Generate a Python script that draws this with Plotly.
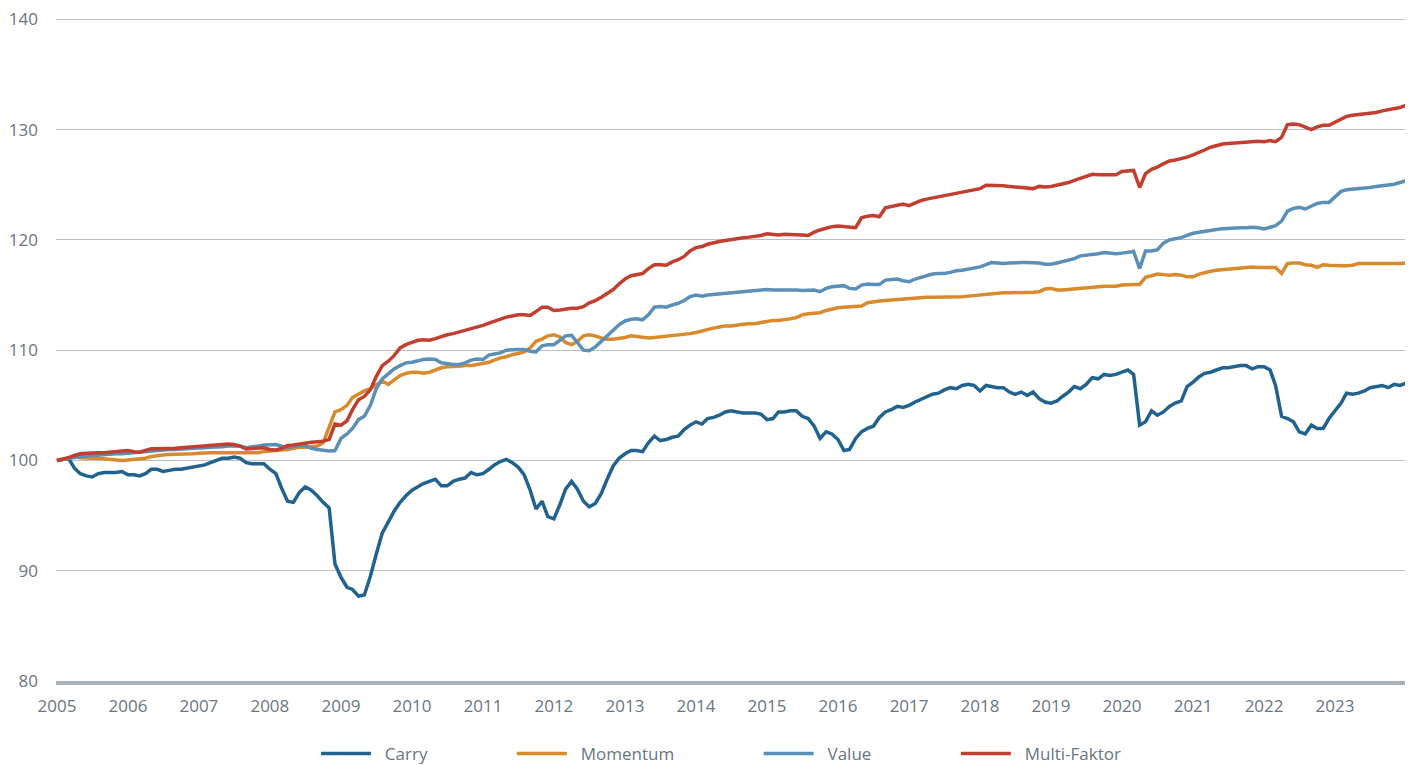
import pandas as pd
import plotly.graph_objects as go

dates = pd.date_range("2005-01-01", "2024-01-01", freq="MS")

carry = [
    100.0, 100.1, 100.2, 99.3, 98.8, 98.6, 98.5, 98.8, 98.9, 98.9, 98.9, 99.0,      # 2005
    98.7, 98.7, 98.6, 98.8, 99.2, 99.2, 99.0, 99.1, 99.2, 99.2, 99.3, 99.4,          # 2006
    99.5, 99.6, 99.8, 100.0, 100.2, 100.2, 100.3, 100.2, 99.8, 99.7, 99.7, 99.7,     # 2007
    99.2, 98.8, 97.5, 96.3, 96.2, 97.1, 97.6, 97.3, 96.8, 96.2, 95.7, 90.6,          # 2008
    89.4, 88.5, 88.3, 87.7, 87.8, 89.5, 91.5, 93.4, 94.4, 95.4, 96.2, 96.8,          # 2009
    97.3, 97.6, 97.9, 98.1, 98.3, 97.7, 97.7, 98.1, 98.3, 98.4, 98.9, 98.7,          # 2010
    98.8, 99.2, 99.6, 99.9, 100.1, 99.8, 99.4, 98.7, 97.3, 95.6, 96.3, 94.9,         # 2011
    94.7, 96.0, 97.4, 98.1, 97.4, 96.3, 95.8, 96.1, 97.0, 98.3, 99.5, 100.2,         # 2012
    100.6, 100.9, 100.9, 100.8, 101.6, 102.2, 101.8, 101.9, 102.1, 102.2, 102.8, 103.2,  # 2013
    103.5, 103.3, 103.8, 103.9, 104.1, 104.4, 104.5, 104.4, 104.3, 104.3, 104.3, 104.2,  # 2014
    103.7, 103.8, 104.4, 104.4, 104.5, 104.5, 104.0, 103.8, 103.1, 102.0, 102.6, 102.4,  # 2015
    101.9, 100.9, 101.0, 102.0, 102.6, 102.9, 103.1, 103.9, 104.4, 104.6, 104.9, 104.8,  # 2016
    105.0, 105.3, 105.5, 105.8, 106.0, 106.1, 106.4, 106.6, 106.5, 106.8, 106.9, 106.8,  # 2017
    106.3, 106.8, 106.7, 106.6, 106.6, 106.2, 106.0, 106.2, 105.9, 106.2, 105.6, 105.3,  # 2018
    105.2, 105.4, 105.8, 106.2, 106.7, 106.5, 106.9, 107.5, 107.4, 107.8, 107.7, 107.8,  # 2019
    108.0, 108.2, 107.8, 103.2, 103.5, 104.5, 104.1, 104.4, 104.9, 105.2, 105.4, 106.7,  # 2020
    107.1, 107.6, 107.9, 108.0, 108.2, 108.4, 108.4, 108.5, 108.6, 108.6, 108.3, 108.5,  # 2021
    108.5, 108.2, 106.8, 104.0, 103.8, 103.5, 102.6, 102.4, 103.2, 102.9, 102.9, 103.8,  # 2022
    104.5, 105.2, 106.1, 106.0, 106.1, 106.3, 106.6, 106.7, 106.8, 106.6, 106.9, 106.8,  # 2023
    107.0,                                                                            # 2024
]

momentum = [
    100.0, 100.1, 100.2, 100.3, 100.25, 100.2, 100.2, 100.2, 100.15, 100.15, 100.05, 100.0,
    100.05, 100.1, 100.15, 100.2, 100.35, 100.45, 100.5, 100.55, 100.55, 100.6, 100.6, 100.6,
    100.65, 100.7, 100.7, 100.7, 100.7, 100.7, 100.65, 100.65, 100.65, 100.65, 100.7, 100.8,
    100.85, 100.85, 100.9, 101.0, 101.1, 101.2, 101.2, 101.25, 101.3, 101.6, 103.0, 104.4,
    104.6, 105.0, 105.7, 106.0, 106.3, 106.5, 106.8, 107.2, 106.9, 107.3, 107.7, 107.9,
    108.0, 108.0, 107.9, 108.0, 108.2, 108.4, 108.5, 108.5, 108.55, 108.6, 108.6, 108.7,
    108.8, 108.9, 109.1, 109.3, 109.4, 109.6, 109.7, 109.85, 110.2, 110.8, 111.0, 111.3,
    111.4, 111.2, 110.7, 110.5, 110.8, 111.3, 111.4, 111.3, 111.1, 111.0, 111.0, 111.05,
    111.15, 111.3, 111.25, 111.2, 111.1, 111.15, 111.2, 111.3, 111.3, 111.35, 111.4, 111.5,
    111.6, 111.75, 111.85, 112.0, 112.1, 112.2, 112.2, 112.3, 112.35, 112.4, 112.4, 112.5,
    112.6, 112.7, 112.7, 112.75, 112.85, 112.95, 113.2, 113.3, 113.35, 113.4, 113.6, 113.75,
    113.85, 113.9, 113.95, 113.95, 114.0, 114.3, 114.4, 114.45, 114.5, 114.55, 114.6, 114.65,
    114.7, 114.75, 114.75, 114.8, 114.8, 114.8, 114.8, 114.85, 114.85, 114.85, 114.9, 114.95,
    115.05, 115.1, 115.15, 115.2, 115.2, 115.2, 115.2, 115.2, 115.25, 115.25, 115.3, 115.55,
    115.6, 115.45, 115.45, 115.5, 115.55, 115.6, 115.7, 115.75, 115.75, 115.8, 115.8, 115.8,
    115.9, 115.95, 115.95, 115.95, 116.6, 116.75, 116.9, 116.85, 116.8, 116.85, 116.8, 116.65,
    116.65, 116.9, 117.05, 117.15, 117.25, 117.3, 117.35, 117.45, 117.45, 117.5, 117.55, 117.5,
    117.5, 117.45, 117.5, 116.95, 117.85, 117.9, 117.9, 117.75, 117.7, 117.5, 117.75, 117.7,
    117.65, 117.65, 117.65, 117.7, 117.85, 117.85, 117.8, 117.8, 117.8, 117.85, 117.85, 117.85,
    117.9,
]

value = [
    100.0, 100.1, 100.2, 100.3, 100.35, 100.4, 100.45, 100.5, 100.55, 100.6, 100.6, 100.6,
    100.65, 100.7, 100.8, 100.85, 100.9, 100.95, 101.0, 101.0, 101.0, 101.0, 101.05, 101.1,
    101.1, 101.15, 101.2, 101.2, 101.25, 101.3, 101.3, 101.3, 101.15, 101.2, 101.3, 101.4,
    101.45, 101.45, 101.3, 101.2, 101.25, 101.35, 101.35, 101.1, 101.0, 100.9, 100.85, 100.9,
    102.0, 102.4, 102.9, 103.7, 104.0, 105.0, 106.5, 107.4, 107.9, 108.3, 108.6, 108.85,
    108.9, 109.05, 109.15, 109.2, 109.15, 108.85, 108.75, 108.7, 108.7, 108.85, 109.1, 109.2,
    109.15, 109.55, 109.65, 109.75, 110.0, 110.05, 110.05, 110.05, 109.9, 109.85, 110.4, 110.5,
    110.5, 110.9, 111.3, 111.35, 110.7, 110.0, 109.95, 110.3, 110.8, 111.3, 111.8, 112.3,
    112.65, 112.8, 112.85, 112.75, 113.2, 113.9, 113.95, 113.9, 114.1, 114.25, 114.5, 114.85,
    115.0, 114.9, 115.0, 115.05, 115.1, 115.15, 115.2, 115.25, 115.25, 115.3, 115.35, 115.4,
    115.5, 115.45, 115.45, 115.45, 115.5, 115.45, 115.4, 115.45, 115.45, 115.3, 115.6, 115.75,
    115.8, 115.85, 115.6, 115.55, 115.9, 116.0, 115.95, 115.95, 116.35, 116.4, 116.45, 116.3,
    116.2, 116.45, 116.6, 116.75, 116.9, 116.95, 116.95, 117.05, 117.2, 117.25, 117.35, 117.5,
    117.55, 117.75, 117.95, 117.9, 117.85, 117.9, 117.95, 117.95, 117.95, 117.95, 117.9, 117.8,
    117.8, 117.9, 118.05, 118.15, 118.3, 118.55, 118.6, 118.7, 118.75, 118.85, 118.8, 118.75,
    118.8, 118.9, 118.95, 117.4, 119.0, 119.0, 119.1, 119.7, 120.0, 120.1, 120.2, 120.4,
    120.6, 120.7, 120.8, 120.9, 120.95, 121.0, 121.05, 121.05, 121.1, 121.1, 121.15, 121.1,
    121.0, 121.15, 121.3, 121.7, 122.6, 122.85, 122.95, 122.8, 123.1, 123.3, 123.4, 123.4,
    123.9, 124.4, 124.55, 124.6, 124.6, 124.65, 124.75, 124.85, 124.9, 125.0, 125.05, 125.2,
    125.35,
]

multi = [
    100.0, 100.1, 100.25, 100.45, 100.6, 100.65, 100.7, 100.7, 100.7, 100.75, 100.75, 100.85,
    100.9, 100.8, 100.75, 100.9, 101.05, 101.05, 101.05, 101.05, 101.1, 101.15, 101.2, 101.25,
    101.3, 101.35, 101.4, 101.45, 101.5, 101.5, 101.45, 101.3, 101.05, 101.1, 101.15, 101.15,
    101.0, 100.95, 101.1, 101.35, 101.4, 101.5, 101.6, 101.65, 101.7, 101.75, 101.9, 103.3,
    103.2, 103.6, 104.6, 105.5, 105.8, 106.4, 107.6, 108.6, 109.0, 109.5, 110.2, 110.5,
    110.7, 110.9, 110.95, 110.9, 111.05, 111.25, 111.4, 111.5, 111.65, 111.8, 111.9, 112.05,
    112.25, 112.45, 112.65, 112.85, 113.0, 113.1, 113.2, 113.2, 113.15, 113.5, 113.9, 113.9,
    113.6, 113.65, 113.75, 113.8, 113.8, 113.95, 114.3, 114.5, 114.8, 115.15, 115.5, 116.0,
    116.45, 116.75, 116.85, 116.95, 117.4, 117.75, 117.75, 117.7, 118.0, 118.2, 118.5, 119.0,
    119.3, 119.4, 119.6, 119.75, 119.85, 119.95, 120.05, 120.15, 120.2, 120.25, 120.3, 120.4,
    120.55, 120.5, 120.45, 120.5, 120.5, 120.5, 120.45, 120.4, 120.7, 120.9, 121.05, 121.2,
    121.25, 121.2, 121.1, 121.1, 122.0, 122.15, 122.2, 122.1, 122.9, 123.0, 123.1, 123.25,
    123.1, 123.35, 123.55, 123.7, 123.8, 123.9, 124.0, 124.1, 124.2, 124.3, 124.4, 124.55,
    124.65, 124.95, 124.95, 124.9, 124.9, 124.85, 124.8, 124.8, 124.7, 124.65, 124.85, 124.8,
    124.85, 124.95, 125.05, 125.2, 125.4, 125.6, 125.8, 125.95, 125.9, 125.9, 125.95, 125.9,
    126.2, 126.25, 126.3, 124.75, 126.0, 126.4, 126.6, 126.9, 127.15, 127.25, 127.35, 127.5,
    127.7, 127.9, 128.15, 128.4, 128.55, 128.7, 128.75, 128.8, 128.85, 128.9, 128.95, 128.95,
    128.9, 129.0, 128.9, 129.3, 130.45, 130.5, 130.45, 130.2, 130.0, 130.25, 130.4, 130.4,
    130.7, 130.95, 131.2, 131.3, 131.35, 131.4, 131.45, 131.55, 131.7, 131.8, 131.9, 132.0,
    132.2,
]

series_names = ["Carry", "Momentum", "Value", "Multi-Faktor"]
series_values = [carry, momentum, value, multi]
series_colors = ["#21628f", "#d98a2c", "#5a8fb7", "#c23f2f"]

year_ticks = [f"{y}-01-01" for y in range(2005, 2024)]
year_labels = [str(y) for y in range(2005, 2024)]
y_ticks = [80, 90, 100, 110, 120, 130, 140]

NB = "\u00a0"
fig = go.Figure()
for i, (name, vals, col) in enumerate(zip(series_names, series_values, series_colors)):
    trail = NB * 18 if i < len(series_names) - 1 else NB * 6
    fig.add_trace(go.Scatter(
        x=dates, y=vals, mode="lines", name=NB * 2 + name + trail,
        line=dict(color=col, width=3.5),
    ))

font_family = "Open Sans, Segoe UI, sans-serif"
# The page body has an 8px default margin, so the figure is 16px smaller
fig.update_layout(
    width=1405, height=757,
    margin=dict(l=48, r=0, t=10, b=84, autoexpand=False),
    paper_bgcolor="white", plot_bgcolor="white",
    font=dict(family=font_family, color="#6b7580", size=17),
    showlegend=True,
    legend=dict(
        orientation="h", x=0.5, xanchor="center", y=-0.11, yanchor="middle",
        font=dict(size=17, color="#6b7580"), itemwidth=50,
    ),
    xaxis=dict(
        type="date",
        range=["2004-12-27", "2024-02-06"],
        tickmode="array", tickvals=year_ticks, ticktext=year_labels,
        showgrid=False, zeroline=False,
        showline=True, linecolor="#a9b0b6", linewidth=4,
        ticks="", tickfont=dict(size=17, color="#6b7580"),
        ticklabelstandoff=7, ticklabeloverflow="allow",
    ),
    yaxis=dict(
        range=[80, 140.12], tickvals=y_ticks,
        showgrid=True, gridcolor="#b8bfc5", gridwidth=1.3,
        zeroline=False, showline=False, ticks="",
        tickfont=dict(size=17, color="#6b7580"),
        ticklabelstandoff=17, ticklabeloverflow="allow",
    ),
)

fig.write_html("out.html")
